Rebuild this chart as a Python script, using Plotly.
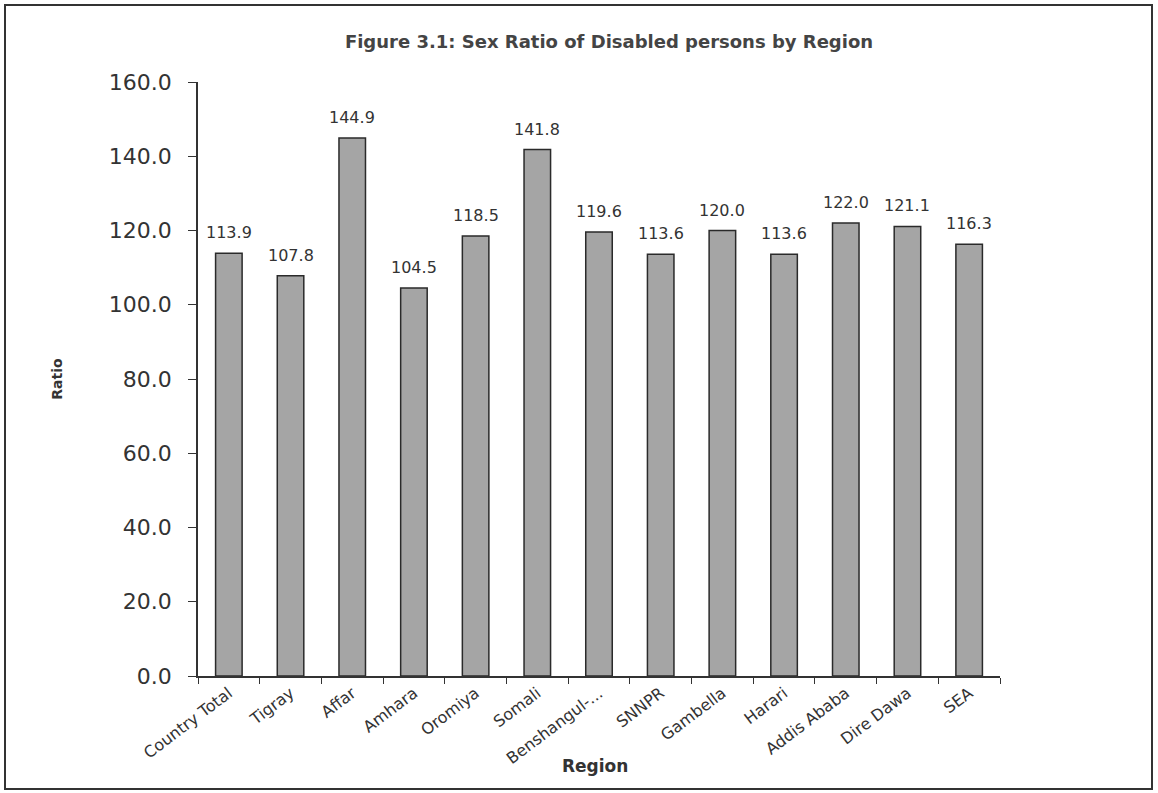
import plotly.graph_objects as go

regions = ["Country Total", "Tigray", "Affar", "Amhara", "Oromiya", "Somali",
           "Benshangul-...", "SNNPR", "Gambella", "Harari", "Addis Ababa",
           "Dire Dawa", "SEA"]
ratio = [113.9, 107.8, 144.9, 104.5, 118.5, 141.8, 119.6, 113.6, 120.0,
         113.6, 122.0, 121.1, 116.3]
y_ticks = [0, 20, 40, 60, 80, 100, 120, 140, 160]

W, H = 1158, 793
L, R, T, B = 198, 1000, 82, 676  # plot area edges in pixels

fig = go.Figure()
fig.add_trace(go.Bar(
    x=regions, y=ratio,
    marker=dict(color="#a5a5a5", line=dict(color="#2a2a2a", width=1.5)),
    cliponaxis=False,
))

# value labels above bars
for cat, v in zip(regions, ratio):
    fig.add_annotation(x=cat, y=v, text=f"{v:.1f}", showarrow=False,
                       yanchor="bottom", yshift=9,
                       font=dict(family="DejaVu Sans", size=16, color="#333333"))

fig.update_layout(
    width=W, height=H, autosize=False,
    plot_bgcolor="white", paper_bgcolor="white",
    margin=dict(l=L, r=W - R, t=T, b=H - B),
    bargap=0.57,
    showlegend=False,
    title=dict(text="<b>Figure 3.1: Sex Ratio of Disabled persons by Region</b>",
               x=609 / W, xanchor="center", y=1 - 42 / H, yanchor="middle",
               font=dict(family="DejaVu Sans", size=18, color="#444444")),
    font=dict(family="DejaVu Sans", color="#333333"),
)
fig.update_yaxes(
    range=[0, 160], tickvals=y_ticks, ticktext=[f"{v:.1f}" for v in y_ticks],
    tickfont=dict(size=22, color="#333333"),
    ticks="outside", ticklen=8, tickcolor="#333333", ticklabelstandoff=12,
    showline=True, linecolor="#333333", linewidth=1.5, showgrid=False, zeroline=False,
    automargin=False,
    title=dict(text="<b>Ratio</b>", font=dict(size=14, color="#333333"), standoff=43),
)
fig.update_xaxes(
    tickangle=-37, tickfont=dict(size=16, color="#333333"),
    ticks="outside", ticklen=6, tickcolor="#333333", tickson="boundaries",
    showline=True, linecolor="#333333", linewidth=1.5, showgrid=False,
    automargin=False,
)

pw, ph = R - L, B - T
# x-axis title
fig.add_annotation(text="<b>Region</b>", xref="paper", yref="paper",
                   x=(595 - L) / pw, y=-(766 - B) / ph, showarrow=False,
                   xanchor="center", yanchor="middle",
                   font=dict(family="DejaVu Sans", size=17, color="#333333"))

# Outer chart frame
fig.add_shape(type="rect", xref="paper", yref="paper",
              x0=(5 - L) / pw, x1=(1152 - L) / pw,
              y0=-(789 - B) / ph, y1=1 + (T - 5) / ph,
              line=dict(color="#333333", width=2))

fig.write_html("out.html", config={"displayModeBar": False},
               post_script="document.body.style.margin='0';document.body.style.overflow='hidden';")
